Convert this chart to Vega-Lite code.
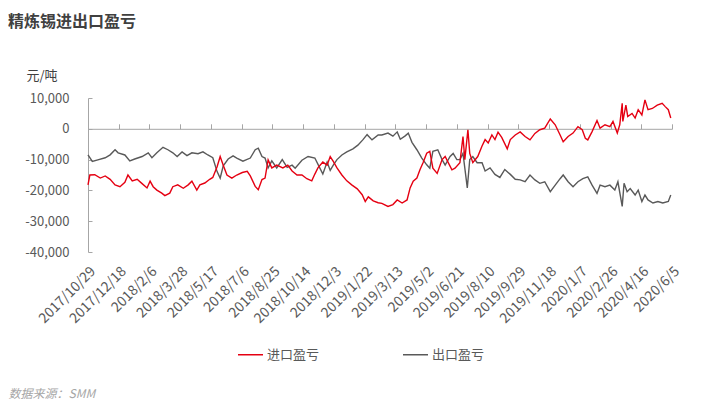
{
  "$schema": "https://vega.github.io/schema/vega-lite/v6.json",
  "width": 584,
  "height": 154,
  "autosize": {"type": "none"},
  "padding": {"left": 88, "top": 98, "right": 32, "bottom": 154},
  "title": {
    "text": "精炼锡进出口盈亏",
    "anchor": "start",
    "frame": "group",
    "dx": -80,
    "dy": -35,
    "fontSize": 16,
    "fontWeight": "bold",
    "color": "#404040",
    "font": "Noto Sans CJK SC"
  },
  "config": {
    "font": "Noto Sans CJK SC",
    "view": {"stroke": null},
    "locale": {
      "number": {"decimal": ".", "thousands": ",", "grouping": [3], "currency": ["$", ""], "minus": "-"}
    },
    "axis": {
      "grid": false,
      "labelFont": "Noto Sans CJK SC",
      "labelColor": "#595959",
      "labelFontSize": 13,
      "domainColor": "#a6a6a6",
      "tickColor": "#a6a6a6"
    }
  },
  "data": {
    "values": [
      {"date": "2017-10-29", "series": "进口盈亏", "value": -18200},
      {"date": "2017-11-01", "series": "进口盈亏", "value": -15000},
      {"date": "2017-11-09", "series": "进口盈亏", "value": -14900},
      {"date": "2017-11-18", "series": "进口盈亏", "value": -16000},
      {"date": "2017-11-26", "series": "进口盈亏", "value": -15300},
      {"date": "2017-12-04", "series": "进口盈亏", "value": -16400},
      {"date": "2017-12-12", "series": "进口盈亏", "value": -18200},
      {"date": "2017-12-20", "series": "进口盈亏", "value": -18800},
      {"date": "2017-12-28", "series": "进口盈亏", "value": -17400},
      {"date": "2018-01-02", "series": "进口盈亏", "value": -15000},
      {"date": "2018-01-09", "series": "进口盈亏", "value": -16900},
      {"date": "2018-01-17", "series": "进口盈亏", "value": -16400},
      {"date": "2018-01-25", "series": "进口盈亏", "value": -17800},
      {"date": "2018-02-02", "series": "进口盈亏", "value": -19200},
      {"date": "2018-02-07", "series": "进口盈亏", "value": -17000},
      {"date": "2018-02-12", "series": "进口盈亏", "value": -18800},
      {"date": "2018-02-18", "series": "进口盈亏", "value": -19900},
      {"date": "2018-02-26", "series": "进口盈亏", "value": -20900},
      {"date": "2018-03-03", "series": "进口盈亏", "value": -21700},
      {"date": "2018-03-11", "series": "进口盈亏", "value": -20900},
      {"date": "2018-03-16", "series": "进口盈亏", "value": -18800},
      {"date": "2018-03-24", "series": "进口盈亏", "value": -18200},
      {"date": "2018-04-02", "series": "进口盈亏", "value": -19300},
      {"date": "2018-04-10", "series": "进口盈亏", "value": -18200},
      {"date": "2018-04-16", "series": "进口盈亏", "value": -17000},
      {"date": "2018-04-24", "series": "进口盈亏", "value": -19900},
      {"date": "2018-04-29", "series": "进口盈亏", "value": -18200},
      {"date": "2018-05-07", "series": "进口盈亏", "value": -17600},
      {"date": "2018-05-15", "series": "进口盈亏", "value": -16400},
      {"date": "2018-05-20", "series": "进口盈亏", "value": -15800},
      {"date": "2018-05-27", "series": "进口盈亏", "value": -12300},
      {"date": "2018-06-01", "series": "进口盈亏", "value": -9000},
      {"date": "2018-06-06", "series": "进口盈亏", "value": -11800},
      {"date": "2018-06-12", "series": "进口盈亏", "value": -15000},
      {"date": "2018-06-20", "series": "进口盈亏", "value": -16000},
      {"date": "2018-06-28", "series": "进口盈亏", "value": -15000},
      {"date": "2018-07-07", "series": "进口盈亏", "value": -14200},
      {"date": "2018-07-15", "series": "进口盈亏", "value": -13800},
      {"date": "2018-07-20", "series": "进口盈亏", "value": -15300},
      {"date": "2018-07-28", "series": "进口盈亏", "value": -18700},
      {"date": "2018-08-02", "series": "进口盈亏", "value": -19800},
      {"date": "2018-08-08", "series": "进口盈亏", "value": -16500},
      {"date": "2018-08-13", "series": "进口盈亏", "value": -16000},
      {"date": "2018-08-18", "series": "进口盈亏", "value": -10100},
      {"date": "2018-08-24", "series": "进口盈亏", "value": -12700},
      {"date": "2018-09-01", "series": "进口盈亏", "value": -11800},
      {"date": "2018-09-11", "series": "进口盈亏", "value": -12700},
      {"date": "2018-09-19", "series": "进口盈亏", "value": -11800},
      {"date": "2018-09-26", "series": "进口盈亏", "value": -13700},
      {"date": "2018-10-04", "series": "进口盈亏", "value": -15000},
      {"date": "2018-10-12", "series": "进口盈亏", "value": -15000},
      {"date": "2018-10-20", "series": "进口盈亏", "value": -16200},
      {"date": "2018-10-28", "series": "进口盈亏", "value": -16900},
      {"date": "2018-11-02", "series": "进口盈亏", "value": -14700},
      {"date": "2018-11-07", "series": "进口盈亏", "value": -12700},
      {"date": "2018-11-15", "series": "进口盈亏", "value": -10800},
      {"date": "2018-11-22", "series": "进口盈亏", "value": -11800},
      {"date": "2018-11-27", "series": "进口盈亏", "value": -9000},
      {"date": "2018-12-02", "series": "进口盈亏", "value": -10600},
      {"date": "2018-12-08", "series": "进口盈亏", "value": -12700},
      {"date": "2018-12-16", "series": "进口盈亏", "value": -15000},
      {"date": "2018-12-24", "series": "进口盈亏", "value": -16900},
      {"date": "2019-01-01", "series": "进口盈亏", "value": -18200},
      {"date": "2019-01-10", "series": "进口盈亏", "value": -19500},
      {"date": "2019-01-18", "series": "进口盈亏", "value": -21400},
      {"date": "2019-01-23", "series": "进口盈亏", "value": -23600},
      {"date": "2019-01-28", "series": "进口盈亏", "value": -22100},
      {"date": "2019-02-05", "series": "进口盈亏", "value": -23400},
      {"date": "2019-02-13", "series": "进口盈亏", "value": -24000},
      {"date": "2019-02-19", "series": "进口盈亏", "value": -24200},
      {"date": "2019-03-01", "series": "进口盈亏", "value": -25200},
      {"date": "2019-03-09", "series": "进口盈亏", "value": -24600},
      {"date": "2019-03-16", "series": "进口盈亏", "value": -23100},
      {"date": "2019-03-24", "series": "进口盈亏", "value": -24100},
      {"date": "2019-04-01", "series": "进口盈亏", "value": -23100},
      {"date": "2019-04-06", "series": "进口盈亏", "value": -19200},
      {"date": "2019-04-11", "series": "进口盈亏", "value": -17000},
      {"date": "2019-04-17", "series": "进口盈亏", "value": -16000},
      {"date": "2019-04-22", "series": "进口盈亏", "value": -13300},
      {"date": "2019-04-27", "series": "进口盈亏", "value": -11000},
      {"date": "2019-05-03", "series": "进口盈亏", "value": -7900},
      {"date": "2019-05-08", "series": "进口盈亏", "value": -7300},
      {"date": "2019-05-13", "series": "进口盈亏", "value": -12800},
      {"date": "2019-05-20", "series": "进口盈亏", "value": -14500},
      {"date": "2019-05-28", "series": "进口盈亏", "value": -10000},
      {"date": "2019-06-02", "series": "进口盈亏", "value": -9000},
      {"date": "2019-06-07", "series": "进口盈亏", "value": -11000},
      {"date": "2019-06-13", "series": "进口盈亏", "value": -13300},
      {"date": "2019-06-18", "series": "进口盈亏", "value": -12800},
      {"date": "2019-06-26", "series": "进口盈亏", "value": -11000},
      {"date": "2019-07-01", "series": "进口盈亏", "value": -2500},
      {"date": "2019-07-04", "series": "进口盈亏", "value": -10000},
      {"date": "2019-07-09", "series": "进口盈亏", "value": -300},
      {"date": "2019-07-12", "series": "进口盈亏", "value": -8000},
      {"date": "2019-07-17", "series": "进口盈亏", "value": -11000},
      {"date": "2019-07-25", "series": "进口盈亏", "value": -9000},
      {"date": "2019-08-01", "series": "进口盈亏", "value": -5600},
      {"date": "2019-08-06", "series": "进口盈亏", "value": -3500},
      {"date": "2019-08-11", "series": "进口盈亏", "value": -4600},
      {"date": "2019-08-17", "series": "进口盈亏", "value": -2000},
      {"date": "2019-08-22", "series": "进口盈亏", "value": -3500},
      {"date": "2019-08-27", "series": "进口盈亏", "value": -1100},
      {"date": "2019-09-02", "series": "进口盈亏", "value": -2800},
      {"date": "2019-09-11", "series": "进口盈亏", "value": -6500},
      {"date": "2019-09-16", "series": "进口盈亏", "value": -3500},
      {"date": "2019-09-24", "series": "进口盈亏", "value": -2000},
      {"date": "2019-10-02", "series": "进口盈亏", "value": -1000},
      {"date": "2019-10-10", "series": "进口盈亏", "value": -2500},
      {"date": "2019-10-18", "series": "进口盈亏", "value": -3600},
      {"date": "2019-10-26", "series": "进口盈亏", "value": -1500},
      {"date": "2019-11-03", "series": "进口盈亏", "value": -300},
      {"date": "2019-11-11", "series": "进口盈亏", "value": 200},
      {"date": "2019-11-20", "series": "进口盈亏", "value": 3200},
      {"date": "2019-11-28", "series": "进口盈亏", "value": 1300},
      {"date": "2019-12-06", "series": "进口盈亏", "value": -2000},
      {"date": "2019-12-11", "series": "进口盈亏", "value": -4200},
      {"date": "2019-12-19", "series": "进口盈亏", "value": -2500},
      {"date": "2019-12-27", "series": "进口盈亏", "value": -1400},
      {"date": "2020-01-04", "series": "进口盈亏", "value": 700},
      {"date": "2020-01-11", "series": "进口盈亏", "value": -300},
      {"date": "2020-01-16", "series": "进口盈亏", "value": -3100},
      {"date": "2020-01-20", "series": "进口盈亏", "value": -3600},
      {"date": "2020-01-27", "series": "进口盈亏", "value": -900},
      {"date": "2020-02-04", "series": "进口盈亏", "value": 2700},
      {"date": "2020-02-09", "series": "进口盈亏", "value": 200},
      {"date": "2020-02-17", "series": "进口盈亏", "value": 1300},
      {"date": "2020-02-25", "series": "进口盈亏", "value": 700},
      {"date": "2020-03-01", "series": "进口盈亏", "value": 2400},
      {"date": "2020-03-08", "series": "进口盈亏", "value": -1400},
      {"date": "2020-03-12", "series": "进口盈亏", "value": 1300},
      {"date": "2020-03-16", "series": "进口盈亏", "value": 8300},
      {"date": "2020-03-17", "series": "进口盈亏", "value": 2400},
      {"date": "2020-03-22", "series": "进口盈亏", "value": 7700},
      {"date": "2020-03-25", "series": "进口盈亏", "value": 4000},
      {"date": "2020-04-01", "series": "进口盈亏", "value": 5000},
      {"date": "2020-04-06", "series": "进口盈亏", "value": 3500},
      {"date": "2020-04-11", "series": "进口盈亏", "value": 6200},
      {"date": "2020-04-17", "series": "进口盈亏", "value": 4500},
      {"date": "2020-04-22", "series": "进口盈亏", "value": 9400},
      {"date": "2020-04-27", "series": "进口盈亏", "value": 6200},
      {"date": "2020-05-04", "series": "进口盈亏", "value": 6600},
      {"date": "2020-05-12", "series": "进口盈亏", "value": 7700},
      {"date": "2020-05-20", "series": "进口盈亏", "value": 8300},
      {"date": "2020-05-25", "series": "进口盈亏", "value": 7200},
      {"date": "2020-05-30", "series": "进口盈亏", "value": 6200},
      {"date": "2020-06-03", "series": "进口盈亏", "value": 3500},

      {"date": "2017-10-29", "series": "出口盈亏", "value": -8450},
      {"date": "2017-11-05", "series": "出口盈亏", "value": -10600},
      {"date": "2017-11-14", "series": "出口盈亏", "value": -10100},
      {"date": "2017-11-26", "series": "出口盈亏", "value": -9400},
      {"date": "2017-12-04", "series": "出口盈亏", "value": -8450},
      {"date": "2017-12-12", "series": "出口盈亏", "value": -6800},
      {"date": "2017-12-17", "series": "出口盈亏", "value": -7800},
      {"date": "2017-12-28", "series": "出口盈亏", "value": -8500},
      {"date": "2018-01-05", "series": "出口盈亏", "value": -10400},
      {"date": "2018-01-13", "series": "出口盈亏", "value": -9800},
      {"date": "2018-01-25", "series": "出口盈亏", "value": -9000},
      {"date": "2018-02-04", "series": "出口盈亏", "value": -7800},
      {"date": "2018-02-10", "series": "出口盈亏", "value": -9400},
      {"date": "2018-02-18", "series": "出口盈亏", "value": -7800},
      {"date": "2018-02-28", "series": "出口盈亏", "value": -6000},
      {"date": "2018-03-08", "series": "出口盈亏", "value": -6800},
      {"date": "2018-03-16", "series": "出口盈亏", "value": -7800},
      {"date": "2018-03-23", "series": "出口盈亏", "value": -9000},
      {"date": "2018-03-31", "series": "出口盈亏", "value": -7500},
      {"date": "2018-04-08", "series": "出口盈亏", "value": -8700},
      {"date": "2018-04-16", "series": "出口盈亏", "value": -7800},
      {"date": "2018-04-26", "series": "出口盈亏", "value": -8100},
      {"date": "2018-05-04", "series": "出口盈亏", "value": -7500},
      {"date": "2018-05-12", "series": "出口盈亏", "value": -8500},
      {"date": "2018-05-20", "series": "出口盈亏", "value": -9400},
      {"date": "2018-05-27", "series": "出口盈亏", "value": -13900},
      {"date": "2018-06-01", "series": "出口盈亏", "value": -16000},
      {"date": "2018-06-06", "series": "出口盈亏", "value": -12000},
      {"date": "2018-06-14", "series": "出口盈亏", "value": -9800},
      {"date": "2018-06-22", "series": "出口盈亏", "value": -8800},
      {"date": "2018-06-28", "series": "出口盈亏", "value": -9500},
      {"date": "2018-07-08", "series": "出口盈亏", "value": -10500},
      {"date": "2018-07-20", "series": "出口盈亏", "value": -9500},
      {"date": "2018-07-28", "series": "出口盈亏", "value": -6800},
      {"date": "2018-08-02", "series": "出口盈亏", "value": -6300},
      {"date": "2018-08-08", "series": "出口盈亏", "value": -9000},
      {"date": "2018-08-13", "series": "出口盈亏", "value": -9500},
      {"date": "2018-08-18", "series": "出口盈亏", "value": -12700},
      {"date": "2018-08-24", "series": "出口盈亏", "value": -10400},
      {"date": "2018-09-01", "series": "出口盈亏", "value": -12700},
      {"date": "2018-09-10", "series": "出口盈亏", "value": -10000},
      {"date": "2018-09-18", "series": "出口盈亏", "value": -12500},
      {"date": "2018-09-26", "series": "出口盈亏", "value": -11800},
      {"date": "2018-10-01", "series": "出口盈亏", "value": -12800},
      {"date": "2018-10-12", "series": "出口盈亏", "value": -10200},
      {"date": "2018-10-22", "series": "出口盈亏", "value": -9000},
      {"date": "2018-11-02", "series": "出口盈亏", "value": -9500},
      {"date": "2018-11-10", "series": "出口盈亏", "value": -12700},
      {"date": "2018-11-15", "series": "出口盈亏", "value": -14700},
      {"date": "2018-11-22", "series": "出口盈亏", "value": -10800},
      {"date": "2018-11-27", "series": "出口盈亏", "value": -13500},
      {"date": "2018-12-02", "series": "出口盈亏", "value": -11800},
      {"date": "2018-12-08", "series": "出口盈亏", "value": -10000},
      {"date": "2018-12-16", "series": "出口盈亏", "value": -8500},
      {"date": "2018-12-24", "series": "出口盈亏", "value": -7500},
      {"date": "2019-01-03", "series": "出口盈亏", "value": -6500},
      {"date": "2019-01-11", "series": "出口盈亏", "value": -5300},
      {"date": "2019-01-19", "series": "出口盈亏", "value": -3600},
      {"date": "2019-01-26", "series": "出口盈亏", "value": -1900},
      {"date": "2019-02-03", "series": "出口盈亏", "value": -3600},
      {"date": "2019-02-13", "series": "出口盈亏", "value": -2000},
      {"date": "2019-02-19", "series": "出口盈亏", "value": -2000},
      {"date": "2019-03-01", "series": "出口盈亏", "value": -1400},
      {"date": "2019-03-09", "series": "出口盈亏", "value": -2400},
      {"date": "2019-03-16", "series": "出口盈亏", "value": -1000},
      {"date": "2019-03-21", "series": "出口盈亏", "value": -3400},
      {"date": "2019-03-29", "series": "出口盈亏", "value": -2300},
      {"date": "2019-04-03", "series": "出口盈亏", "value": -1400},
      {"date": "2019-04-09", "series": "出口盈亏", "value": -4400},
      {"date": "2019-04-17", "series": "出口盈亏", "value": -6800},
      {"date": "2019-04-25", "series": "出口盈亏", "value": -9500},
      {"date": "2019-05-03", "series": "出口盈亏", "value": -11700},
      {"date": "2019-05-08", "series": "出口盈亏", "value": -12800},
      {"date": "2019-05-13", "series": "出口盈亏", "value": -7300},
      {"date": "2019-05-21", "series": "出口盈亏", "value": -6800},
      {"date": "2019-05-28", "series": "出口盈亏", "value": -10000},
      {"date": "2019-06-02", "series": "出口盈亏", "value": -11800},
      {"date": "2019-06-10", "series": "出口盈亏", "value": -9000},
      {"date": "2019-06-15", "series": "出口盈亏", "value": -8000},
      {"date": "2019-06-21", "series": "出口盈亏", "value": -10000},
      {"date": "2019-06-26", "series": "出口盈亏", "value": -10000},
      {"date": "2019-07-01", "series": "出口盈亏", "value": -8000},
      {"date": "2019-07-08", "series": "出口盈亏", "value": -19200},
      {"date": "2019-07-12", "series": "出口盈亏", "value": -10000},
      {"date": "2019-07-17", "series": "出口盈亏", "value": -9000},
      {"date": "2019-07-24", "series": "出口盈亏", "value": -11000},
      {"date": "2019-08-01", "series": "出口盈亏", "value": -11000},
      {"date": "2019-08-06", "series": "出口盈亏", "value": -13700},
      {"date": "2019-08-14", "series": "出口盈亏", "value": -12700},
      {"date": "2019-08-22", "series": "出口盈亏", "value": -14800},
      {"date": "2019-08-30", "series": "出口盈亏", "value": -15800},
      {"date": "2019-09-07", "series": "出口盈亏", "value": -13200},
      {"date": "2019-09-16", "series": "出口盈亏", "value": -14800},
      {"date": "2019-09-24", "series": "出口盈亏", "value": -16400},
      {"date": "2019-10-02", "series": "出口盈亏", "value": -16600},
      {"date": "2019-10-10", "series": "出口盈亏", "value": -17200},
      {"date": "2019-10-18", "series": "出口盈亏", "value": -15000},
      {"date": "2019-10-26", "series": "出口盈亏", "value": -16600},
      {"date": "2019-11-03", "series": "出口盈亏", "value": -17700},
      {"date": "2019-11-11", "series": "出口盈亏", "value": -17200},
      {"date": "2019-11-20", "series": "出口盈亏", "value": -20400},
      {"date": "2019-11-28", "series": "出口盈亏", "value": -18300},
      {"date": "2019-12-06", "series": "出口盈亏", "value": -16200},
      {"date": "2019-12-11", "series": "出口盈亏", "value": -15000},
      {"date": "2019-12-19", "series": "出口盈亏", "value": -17200},
      {"date": "2019-12-27", "series": "出口盈亏", "value": -18800},
      {"date": "2020-01-04", "series": "出口盈亏", "value": -17200},
      {"date": "2020-01-12", "series": "出口盈亏", "value": -16200},
      {"date": "2020-01-20", "series": "出口盈亏", "value": -15600},
      {"date": "2020-01-27", "series": "出口盈亏", "value": -18300},
      {"date": "2020-02-04", "series": "出口盈亏", "value": -21000},
      {"date": "2020-02-09", "series": "出口盈亏", "value": -18300},
      {"date": "2020-02-17", "series": "出口盈亏", "value": -18800},
      {"date": "2020-02-25", "series": "出口盈亏", "value": -18300},
      {"date": "2020-03-04", "series": "出口盈亏", "value": -19900},
      {"date": "2020-03-09", "series": "出口盈亏", "value": -17200},
      {"date": "2020-03-16", "series": "出口盈亏", "value": -25200},
      {"date": "2020-03-19", "series": "出口盈亏", "value": -17700},
      {"date": "2020-03-24", "series": "出口盈亏", "value": -20400},
      {"date": "2020-03-29", "series": "出口盈亏", "value": -19400},
      {"date": "2020-04-06", "series": "出口盈亏", "value": -21500},
      {"date": "2020-04-11", "series": "出口盈亏", "value": -19900},
      {"date": "2020-04-17", "series": "出口盈亏", "value": -23600},
      {"date": "2020-04-22", "series": "出口盈亏", "value": -21500},
      {"date": "2020-04-27", "series": "出口盈亏", "value": -23100},
      {"date": "2020-05-05", "series": "出口盈亏", "value": -24100},
      {"date": "2020-05-13", "series": "出口盈亏", "value": -23600},
      {"date": "2020-05-21", "series": "出口盈亏", "value": -24100},
      {"date": "2020-05-30", "series": "出口盈亏", "value": -23600},
      {"date": "2020-06-03", "series": "出口盈亏", "value": -21500}
    ]
  },
  "encoding": {
    "y": {
      "field": "value",
      "type": "quantitative",
      "scale": {"domain": [-40000, 10000], "nice": false},
      "axis": {
        "values": [-40000, -30000, -20000, -10000, 0, 10000],
        "format": ",d",
        "tickSize": -4,
        "labelPadding": 23,
        "title": "元/吨",
        "titleAngle": 0,
        "titleX": -62,
        "titleY": -19,
        "titleAlign": "left",
        "titleBaseline": "alphabetic",
        "titleFontWeight": "normal",
        "titleFontSize": 13,
        "titleColor": "#404040"
      }
    },
    "color": {
      "field": "series",
      "type": "nominal",
      "scale": {"domain": ["进口盈亏", "出口盈亏"], "range": ["#e50012", "#595959"]},
      "legend": {
        "orient": "none",
        "legendX": 149,
        "legendY": 243,
        "direction": "horizontal",
        "title": null,
        "padding": 0,
        "symbolType": "stroke",
        "symbolSize": 625,
        "symbolStrokeWidth": 1.5,
        "labelFontSize": 13,
        "labelColor": "#595959",
        "labelOffset": 3,
        "columnPadding": 80
      }
    }
  },
  "layer": [
    {
      "transform": [{"filter": "datum.series === '出口盈亏'"}],
      "mark": {"type": "line", "strokeWidth": 1.4},
      "encoding": {
        "x": {
          "field": "date",
          "type": "temporal",
          "scale": {
            "type": "utc",
            "nice": false,
            "domain": [
              {"year": 2017, "month": 10, "date": 29, "utc": true},
              {"year": 2020, "month": 6, "date": 5, "utc": true}
            ]
          },
          "axis": {
            "orient": "top",
            "offset": -30.8,
            "labels": false,
            "ticks": true,
            "tickSize": 5,
            "domain": true,
            "title": null,
            "values": [
              {"year": 2017, "month": 10, "date": 29, "utc": true},
              {"year": 2017, "month": 12, "date": 18, "utc": true},
              {"year": 2018, "month": 2, "date": 6, "utc": true},
              {"year": 2018, "month": 3, "date": 28, "utc": true},
              {"year": 2018, "month": 5, "date": 17, "utc": true},
              {"year": 2018, "month": 7, "date": 6, "utc": true},
              {"year": 2018, "month": 8, "date": 25, "utc": true},
              {"year": 2018, "month": 10, "date": 14, "utc": true},
              {"year": 2018, "month": 12, "date": 3, "utc": true},
              {"year": 2019, "month": 1, "date": 22, "utc": true},
              {"year": 2019, "month": 3, "date": 13, "utc": true},
              {"year": 2019, "month": 5, "date": 2, "utc": true},
              {"year": 2019, "month": 6, "date": 21, "utc": true},
              {"year": 2019, "month": 8, "date": 10, "utc": true},
              {"year": 2019, "month": 9, "date": 29, "utc": true},
              {"year": 2019, "month": 11, "date": 18, "utc": true},
              {"year": 2020, "month": 1, "date": 7, "utc": true},
              {"year": 2020, "month": 2, "date": 26, "utc": true},
              {"year": 2020, "month": 4, "date": 16, "utc": true},
              {"year": 2020, "month": 6, "date": 5, "utc": true}
            ]
          }
        }
      }
    },
    {
      "transform": [{"filter": "datum.series === '进口盈亏'"}],
      "mark": {"type": "line", "strokeWidth": 1.4},
      "encoding": {
        "x": {
          "field": "date",
          "type": "temporal",
          "scale": {
            "type": "utc",
            "nice": false,
            "domain": [
              {"year": 2017, "month": 10, "date": 29, "utc": true},
              {"year": 2020, "month": 6, "date": 5, "utc": true}
            ]
          },
          "axis": {
            "orient": "bottom",
            "domain": false,
            "ticks": false,
            "labelAngle": -45,
            "labelPadding": 12,
            "labelFontSize": 14,
            "labelOverlap": false,
            "labelFlush": false,
            "labelExpr": "utcFormat(datum.value, '%Y/%-m/%-d')",
            "title": "数据来源：SMM",
            "titleX": -80,
            "titleY": 145,
            "titleAlign": "left",
            "titleBaseline": "alphabetic",
            "titleFontStyle": "italic",
            "titleFontWeight": "normal",
            "titleFontSize": 12,
            "titleColor": "#a6a6a6",
            "values": [
              {"year": 2017, "month": 10, "date": 29, "utc": true},
              {"year": 2017, "month": 12, "date": 18, "utc": true},
              {"year": 2018, "month": 2, "date": 6, "utc": true},
              {"year": 2018, "month": 3, "date": 28, "utc": true},
              {"year": 2018, "month": 5, "date": 17, "utc": true},
              {"year": 2018, "month": 7, "date": 6, "utc": true},
              {"year": 2018, "month": 8, "date": 25, "utc": true},
              {"year": 2018, "month": 10, "date": 14, "utc": true},
              {"year": 2018, "month": 12, "date": 3, "utc": true},
              {"year": 2019, "month": 1, "date": 22, "utc": true},
              {"year": 2019, "month": 3, "date": 13, "utc": true},
              {"year": 2019, "month": 5, "date": 2, "utc": true},
              {"year": 2019, "month": 6, "date": 21, "utc": true},
              {"year": 2019, "month": 8, "date": 10, "utc": true},
              {"year": 2019, "month": 9, "date": 29, "utc": true},
              {"year": 2019, "month": 11, "date": 18, "utc": true},
              {"year": 2020, "month": 1, "date": 7, "utc": true},
              {"year": 2020, "month": 2, "date": 26, "utc": true},
              {"year": 2020, "month": 4, "date": 16, "utc": true},
              {"year": 2020, "month": 6, "date": 5, "utc": true}
            ]
          }
        }
      }
    }
  ],
  "resolve": {"axis": {"x": "independent"}}
}
